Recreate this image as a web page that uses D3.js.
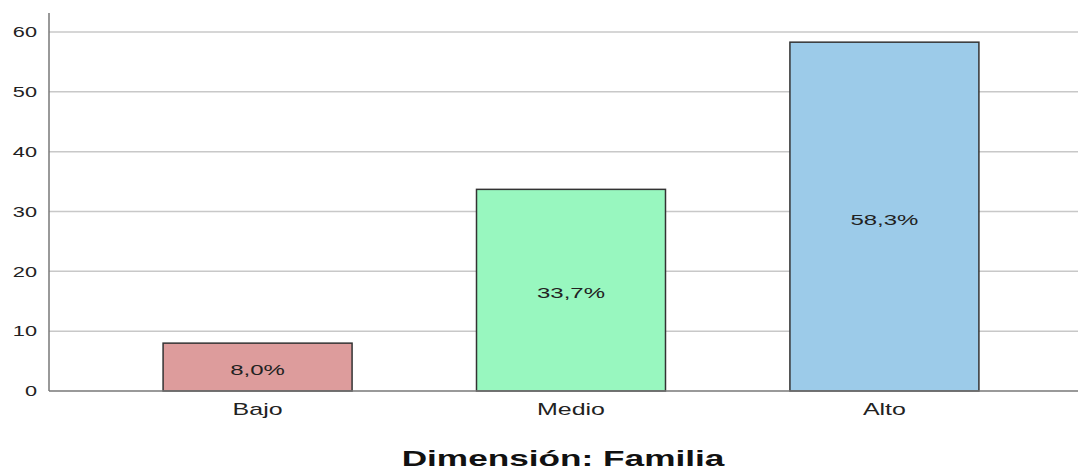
<!DOCTYPE html>
<html><head><meta charset="utf-8">
<script src="https://cdn.jsdelivr.net/npm/d3@7"></script>
<style>body{margin:0;background:#fff}svg{display:block}text{font-family:"Liberation Sans",Arial,sans-serif}</style>
</head><body><svg id="c" width="1078" height="470"></svg>
<script>
const categories = ["Bajo", "Medio", "Alto"];
const values = [8.0, 33.7, 58.3];
const labels = ["8,0%", "33,7%", "58,3%"];
const colors = ["#dd9c9c", "#98f7bf", "#9ccbe9"];
const yTicks = [0, 10, 20, 30, 40, 50, 60];
const title = "Dimensión: Familia";

const svg = d3.select("#c");
const x0 = 49, yBase = 391;
const x = d3.scaleBand().domain(categories).range([49, 1093]).paddingInner(0.397).paddingOuter(0.364);
const y = d3.scaleLinear().domain([0, 60]).range([yBase, 32]);

// gridlines
svg.append("g").selectAll("line").data(yTicks.filter(d => d > 0)).join("line")
  .attr("x1", x0).attr("x2", 1078).attr("y1", d => y(d)).attr("y2", d => y(d))
  .attr("stroke", "#c8c8c8").attr("stroke-width", 1.5);

// bars
svg.append("g").selectAll("rect").data(categories).join("rect")
  .attr("x", d => x(d)).attr("width", x.bandwidth())
  .attr("y", (d, i) => y(values[i])).attr("height", (d, i) => yBase - y(values[i]))
  .attr("fill", (d, i) => colors[i]).attr("stroke", "#333").attr("stroke-width", 1.5);

// bar labels (horizontally stretched like the reference)
svg.append("g").selectAll("text").data(categories).join("text")
  .attr("transform", (d, i) => `translate(${x(d) + x.bandwidth() / 2},${(y(values[i]) + yBase) / 2 + 4}) scale(1.6,1)`)
  .attr("text-anchor", "middle").attr("dominant-baseline", "middle")
  .attr("font-size", 15).attr("fill", "#222").text((d, i) => labels[i]);

// axes lines
svg.append("line").attr("x1", x0).attr("x2", 1078).attr("y1", yBase).attr("y2", yBase)
  .attr("stroke", "#777").attr("stroke-width", 1.5);
svg.append("line").attr("x1", x0).attr("x2", x0).attr("y1", 13).attr("y2", yBase)
  .attr("stroke", "#777").attr("stroke-width", 1.5);

// y tick labels
const sy = 1.45;
const yAxis = d3.axisLeft(y).tickValues(yTicks).tickSize(0).tickPadding(12);
const ga = svg.append("g").attr("transform", `translate(${x0},0)`).call(yAxis);
ga.select(".domain").remove();
ga.selectAll("text").attr("font-size", 15).attr("fill", "#222")
  .attr("font-family", '"Liberation Sans",Arial,sans-serif')
  .attr("x", -12 / sy).attr("transform", `scale(${sy},1)`);

// x tick labels
const xAxis = d3.axisBottom(x).tickSize(0).tickPadding(12);
const gx = svg.append("g").attr("transform", `translate(0,${yBase})`).call(xAxis);
gx.select(".domain").remove();
gx.selectAll("text").attr("font-size", 17).attr("fill", "#222")
  .attr("font-family", '"Liberation Sans",Arial,sans-serif')
  .attr("transform", "scale(1.47,1)");

// title
svg.append("text").attr("transform", "translate(563,466) scale(1.6,1)")
  .attr("text-anchor", "middle").attr("font-size", 22).attr("font-weight", "bold")
  .attr("fill", "#111").text(title);
</script></body></html>
